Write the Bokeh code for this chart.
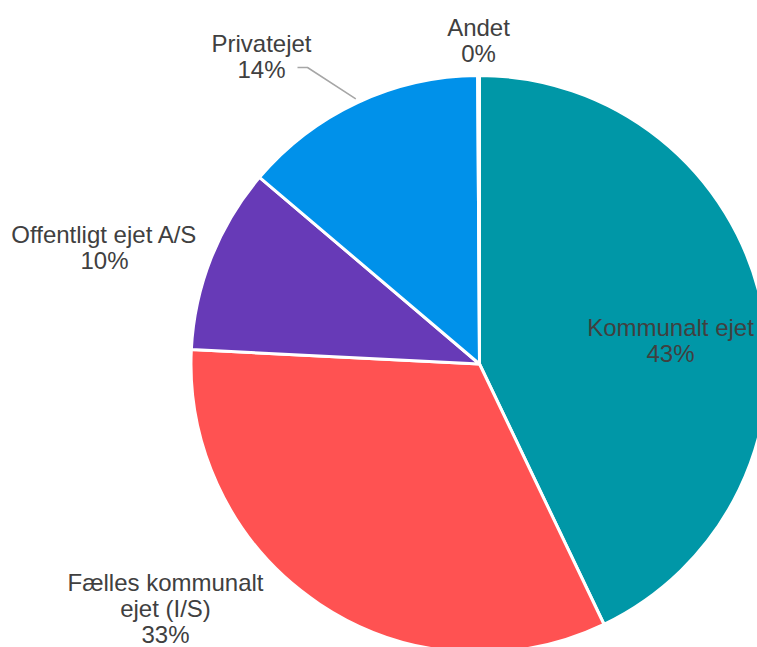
import numpy as np
from bokeh.plotting import figure
from bokeh.models import ColumnDataSource
from bokeh.core.properties import value
from bokeh.embed import file_html
from bokeh.resources import INLINE

# ---- data ----
categories = ["Kommunalt ejet", "Fælles kommunalt\nejet (I/S)", "Offentligt ejet A/S", "Privatejet", "Andet"]
shares = [42.9, 32.9, 10.4, 13.7, 0.1]
colors = ["#0097A7", "#FF5252", "#673AB7", "#0091EA", "#A5A5A5"]

# ---- layout ----
W, H = 757, 647
cx, cy, R = 479.0, H - 363.5, 288.5
# label anchors (canvas px: x, y from top)
label_pos = [(670, 340), (165, 608), (104, 247), (261, 56), (478, 40)]
text_color = "#404040"

vals = np.array(shares, dtype=float)
frac = vals / vals.sum()
cum = np.concatenate([[0.0], np.cumsum(frac)])
start = np.pi / 2 - 2 * np.pi * cum[:-1]
end = np.pi / 2 - 2 * np.pi * cum[1:]

p = figure(width=W, height=H, x_range=(0, W), y_range=(0, H),
           output_backend="svg", toolbar_location=None,
           min_border=0, outline_line_color=None)
p.axis.visible = False
p.grid.visible = False
p.background_fill_color = "white"
p.border_fill_color = "white"

src = ColumnDataSource(dict(x=[cx] * len(vals), y=[cy] * len(vals),
                            start=start, end=end, color=colors))
p.wedge(x="x", y="y", radius=R, radius_units="data", start_angle="start", end_angle="end",
        direction="clock", fill_color="color", line_color="white", line_width=3, source=src)

# leader line for Privatejet
i = 3
mid = (start[i] + end[i]) / 2
ex, ey = cx + (R + 4) * np.cos(mid), cy + (R + 4) * np.sin(mid)
lx, ly = label_pos[i][0] + 36, H - (label_pos[i][1] + 11)
p.line([lx, lx + 10, ex], [ly, ly, ey], line_color="#A6A6A6", line_width=1.5)

labels = [f"{c}\n{int(round(v))}%" for c, v in zip(categories, vals)]
lsrc = ColumnDataSource(dict(x=[a for a, b in label_pos], y=[H - b for a, b in label_pos], t=labels))
p.text(x="x", y="y", text="t", source=lsrc, text_align="center", text_baseline="middle",
       text_font=value("Liberation Sans"), text_font_size="24px", text_color=text_color,
       text_line_height=0.97)

open("out.html", "w").write(file_html(p, INLINE))
